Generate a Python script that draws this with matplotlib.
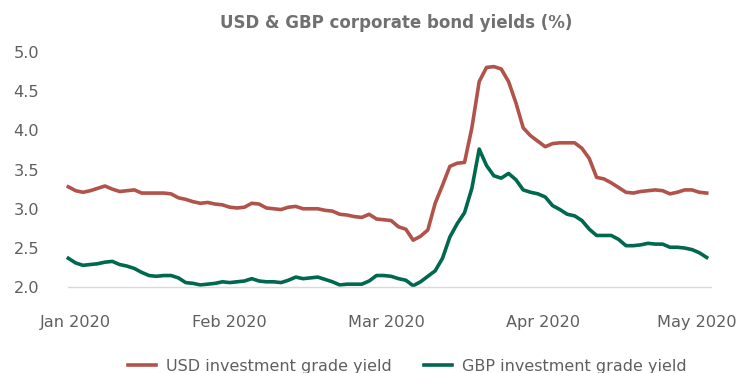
import matplotlib
matplotlib.use("Agg")
import matplotlib.pyplot as plt
import numpy as np

# Daily observations, Jan 2020 - end Apr 2020 (business days)
usd_yield = [3.28, 3.23, 3.21, 3.23, 3.26, 3.29, 3.25, 3.22, 3.23, 3.24,
             3.20, 3.20, 3.20, 3.20, 3.19, 3.14, 3.12, 3.09, 3.07, 3.08,
             3.06, 3.05, 3.02, 3.01, 3.02, 3.07, 3.06, 3.01, 3.00, 2.99,
             3.02, 3.03, 3.00, 3.00, 3.00, 2.98, 2.97, 2.93, 2.92, 2.90,
             2.89, 2.93, 2.87, 2.86, 2.85, 2.77, 2.74, 2.60, 2.65, 2.73,
             3.07, 3.30, 3.54, 3.58, 3.59, 4.03, 4.62, 4.80, 4.81, 4.78,
             4.62, 4.35, 4.03, 3.93, 3.86, 3.79, 3.83, 3.84, 3.84, 3.84,
             3.77, 3.64, 3.40, 3.38, 3.33, 3.27, 3.21, 3.20, 3.22, 3.23,
             3.24, 3.23, 3.19, 3.21, 3.24, 3.24, 3.21, 3.20]

gbp_yield = [2.37, 2.31, 2.28, 2.29, 2.30, 2.32, 2.33, 2.29, 2.27, 2.24,
             2.19, 2.15, 2.14, 2.15, 2.15, 2.12, 2.06, 2.05, 2.03, 2.04,
             2.05, 2.07, 2.06, 2.07, 2.08, 2.11, 2.08, 2.07, 2.07, 2.06,
             2.09, 2.13, 2.11, 2.12, 2.13, 2.10, 2.07, 2.03, 2.04, 2.04,
             2.04, 2.08, 2.15, 2.15, 2.14, 2.11, 2.09, 2.02, 2.07, 2.14,
             2.21, 2.37, 2.64, 2.81, 2.95, 3.26, 3.76, 3.55, 3.42, 3.39,
             3.45, 3.37, 3.24, 3.21, 3.19, 3.15, 3.04, 2.99, 2.93, 2.91,
             2.85, 2.74, 2.66, 2.66, 2.66, 2.61, 2.53, 2.53, 2.54, 2.56,
             2.55, 2.55, 2.51, 2.51, 2.50, 2.48, 2.44, 2.38]

month_labels = ["Jan 2020", "Feb 2020", "Mar 2020", "Apr 2020", "May 2020"]
month_positions = [0.9, 22.0, 43.3, 64.7, 85.7]

series_names = ["USD investment grade yield", "GBP investment grade yield"]
colors = ["#B1534A", "#00684F"]

plt.rcParams['font.family'] = ['DejaVu Sans']

fig = plt.figure(figsize=(7.39, 3.73), dpi=100)
ax = fig.add_axes([68.3 / 739, 1 - 287.3 / 373, (710.7 - 68.3) / 739, (287.3 - 51.7) / 373])

x = np.arange(len(usd_yield))
ax.plot(x, usd_yield, color=colors[0], lw=2.6, label=series_names[0], clip_on=False,
        solid_joinstyle='round')
ax.plot(x, gbp_yield, color=colors[1], lw=2.6, label=series_names[1], clip_on=False,
        solid_joinstyle='round')

ax.set_ylim(2.0, 5.0)
ax.set_xlim(0, len(usd_yield) - 1 + 0.55)
ax.set_yticks([2.0, 2.5, 3.0, 3.5, 4.0, 4.5, 5.0])
ax.set_yticklabels([f"{v:.1f}" for v in [2.0, 2.5, 3.0, 3.5, 4.0, 4.5, 5.0]])
ax.set_xticks(month_positions)
ax.set_xticklabels(month_labels)

for s in ["top", "right", "left"]:
    ax.spines[s].set_visible(False)
ax.spines["bottom"].set_color("#D9D9D9")
ax.spines["bottom"].set_linewidth(1.0)
ax.tick_params(axis="both", length=0, labelsize=11.6, labelcolor="#5F5F5F")
ax.tick_params(axis="y", pad=21)
ax.tick_params(axis="x", pad=20)

fig.text(396 / 739, 1 - 23 / 373, "USD & GBP corporate bond yields (%)", ha="center", va="center",
         fontsize=12.0, fontweight="bold", color="#707070")

leg = fig.legend(loc="center", bbox_to_anchor=(407 / 739, 1 - 366 / 373), ncol=2, frameon=False,
                 fontsize=11.5, handlelength=1.8, handletextpad=0.6, columnspacing=2.0)
for t in leg.get_texts():
    t.set_color("#5F5F5F")

fig.savefig("out.png", dpi=100)
